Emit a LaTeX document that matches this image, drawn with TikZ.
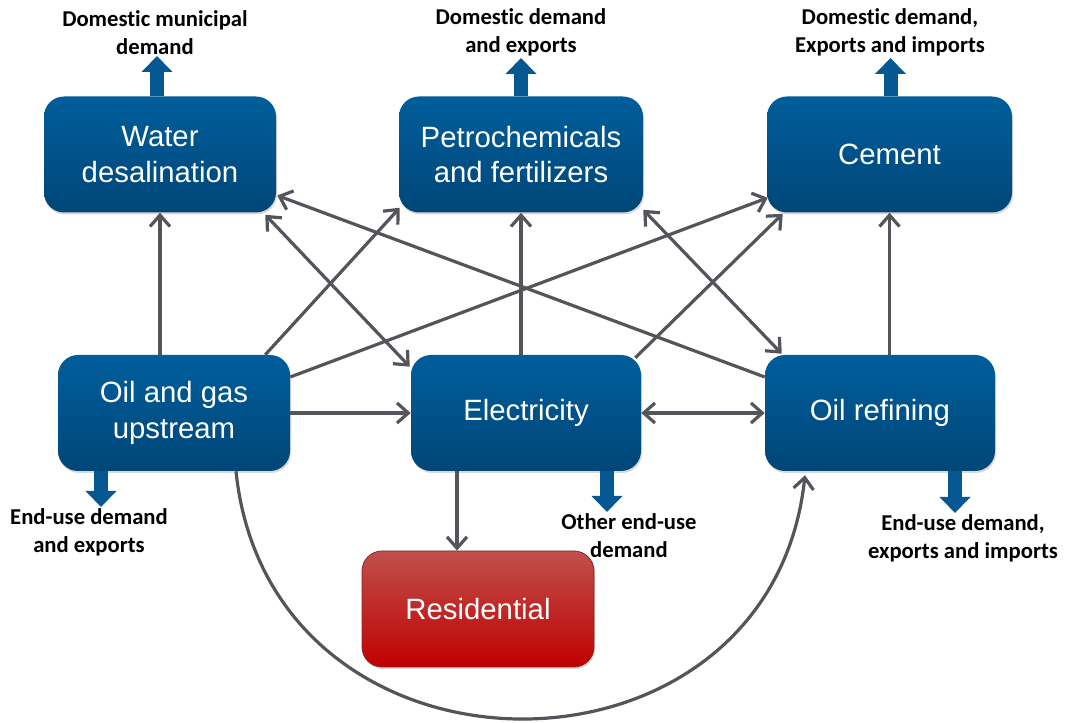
\documentclass[tikz,border=0pt]{standalone}
\usepackage{fontspec}
\setmainfont{Liberation Sans}
\newfontfamily\lblfont{Carlito}[RawFeature={-liga;-clig;-dlig;-hlig}]
\usetikzlibrary{arrows.meta,calc,shadows}

\definecolor{boxtop}{RGB}{0,94,155}
\definecolor{boxbot}{RGB}{0,70,120}
\definecolor{restop}{RGB}{192,80,77}
\definecolor{resbot}{RGB}{192,0,0}
\definecolor{resline}{RGB}{130,40,38}
\definecolor{linkgray}{RGB}{84,85,90}
\definecolor{flowblue}{RGB}{6,88,146}

\tikzset{
  sector/.style={rounded corners=15pt, top color=boxtop, bottom color=boxbot,
    text=white, align=center, font=\fontsize{22}{26.5}\selectfont,
    inner sep=0pt, minimum height=87pt,
    drop shadow={opacity=0.3,shadow xshift=0.8pt,shadow yshift=-1.5pt}},
  homes/.style={sector, top color=restop, bottom color=resbot,
    draw=resline, line width=0.6pt},
  lbl/.style={font=\lblfont\bfseries\fontsize{17}{21}\selectfont,
    align=center, inner sep=1pt},
  link/.style={draw=linkgray, line width=2.4pt,
    >={Straight Barb[length=8.5pt,width=15pt]}},
  flow/.style={draw=flowblue, line width=10.5pt,
    -{Triangle[width=22.5pt,length=12pt]}, fill=flowblue}
}

\begin{document}
\begin{tikzpicture}[x=0.75pt,y=-0.75pt]
  \useasboundingbox (0,0) rectangle (1065,723);

  % sectors
  \node[sector, minimum width=174pt] (water) at (160,154.5) {Water\\desalination};
  \node[sector, minimum width=183pt] (petro) at (521,154.5) {Petrochemicals\\and fertilizers};
  \node[sector, minimum width=183.75pt] (cement) at (889.5,154.5) {Cement};
  \node[sector, minimum width=174pt] (up) at (174,413) {Oil and gas\\upstream};
  \node[sector, minimum width=172.5pt] (elec) at (526,413) {Electricity};
  \node[sector, minimum width=172.5pt] (ref) at (880,413) {Oil refining};
  \node[homes, minimum width=174pt] (res) at (478,609) {Residential};

  % outputs
  \node[lbl, anchor=south] (lwater) at (155,56) {Domestic municipal\\demand};
  \node[lbl, anchor=south] (lpetro) at (521,58) {Domestic demand\\and exports};
  \node[lbl, anchor=south] (lcement) at (890,58) {Domestic demand,\\Exports and imports};
  \node[lbl, anchor=north] (lup) at (89,507) {End-use demand\\and exports};
  \node[lbl, anchor=north] (lelec) at (629,512) {Other end-use\\demand};
  \node[lbl, anchor=north] (lref) at (963,513) {End-use demand,\\exports and imports};

  \draw[flow] ($(water.north)+(-3,0)$) coordinate (wout) -- (wout |- lwater.south);
  \draw[flow] (petro.north) -- (petro.north |- lpetro.south);
  \draw[flow] ($(cement.north)+(1,0)$) coordinate (cout) -- (cout |- lcement.south);
  \draw[flow] ($(up.south)+(-73,0)$) coordinate (uout) -- (uout |- lup.north);
  \draw[flow] ($(elec.south)+(81,0)$) coordinate (eout) -- (eout |- lelec.north);
  \draw[flow] ($(ref.south)+(75,0)$) coordinate (rout) -- (rout |- lref.north);

  % links
  \draw[link,->] (water.south |- up.north) -- (water.south);
  \draw[link,->] ($(up.north east)+(-25,0)$) -- ($(petro.south west)+(1,-5)$);
  \draw[link,->] ($(up.east)+(0,-36)$) -- ($(cement.south west)+(1,-15)$);
  \draw[link,->] (up.east) -- (elec.west);
  \draw[link,<->] ($(water.south east)+(-11,2)$) -- ($(elec.north west)+(-1,12)$);
  \draw[link,->] ($(ref.west)+(0,-36)$) -- ($(water.east)+(1,41)$);
  \draw[link,->] (petro.south |- elec.north) -- (petro.south);
  \draw[link,->] ($(elec.north east)+(-6,3)$) -- ($(cement.south west)+(16,1)$);
  \draw[link,<->] ($(petro.south east)+(0,-3)$) -- ($(ref.north west)+(17,-1)$);
  \draw[link,->] (cement.south |- ref.north) -- (cement.south);
  \draw[link,<->] (elec.east) -- (ref.west);
  \draw[link,->] ($(elec.south)+(-69,0)$) -- ($(res.north)+(-21,0)$);
  \draw[link,->] ($(up.south)+(62,0)$) .. controls +(34,329) and +(-35,325) .. ($(ref.south)+(-75,4)$);
\end{tikzpicture}
\end{document}
